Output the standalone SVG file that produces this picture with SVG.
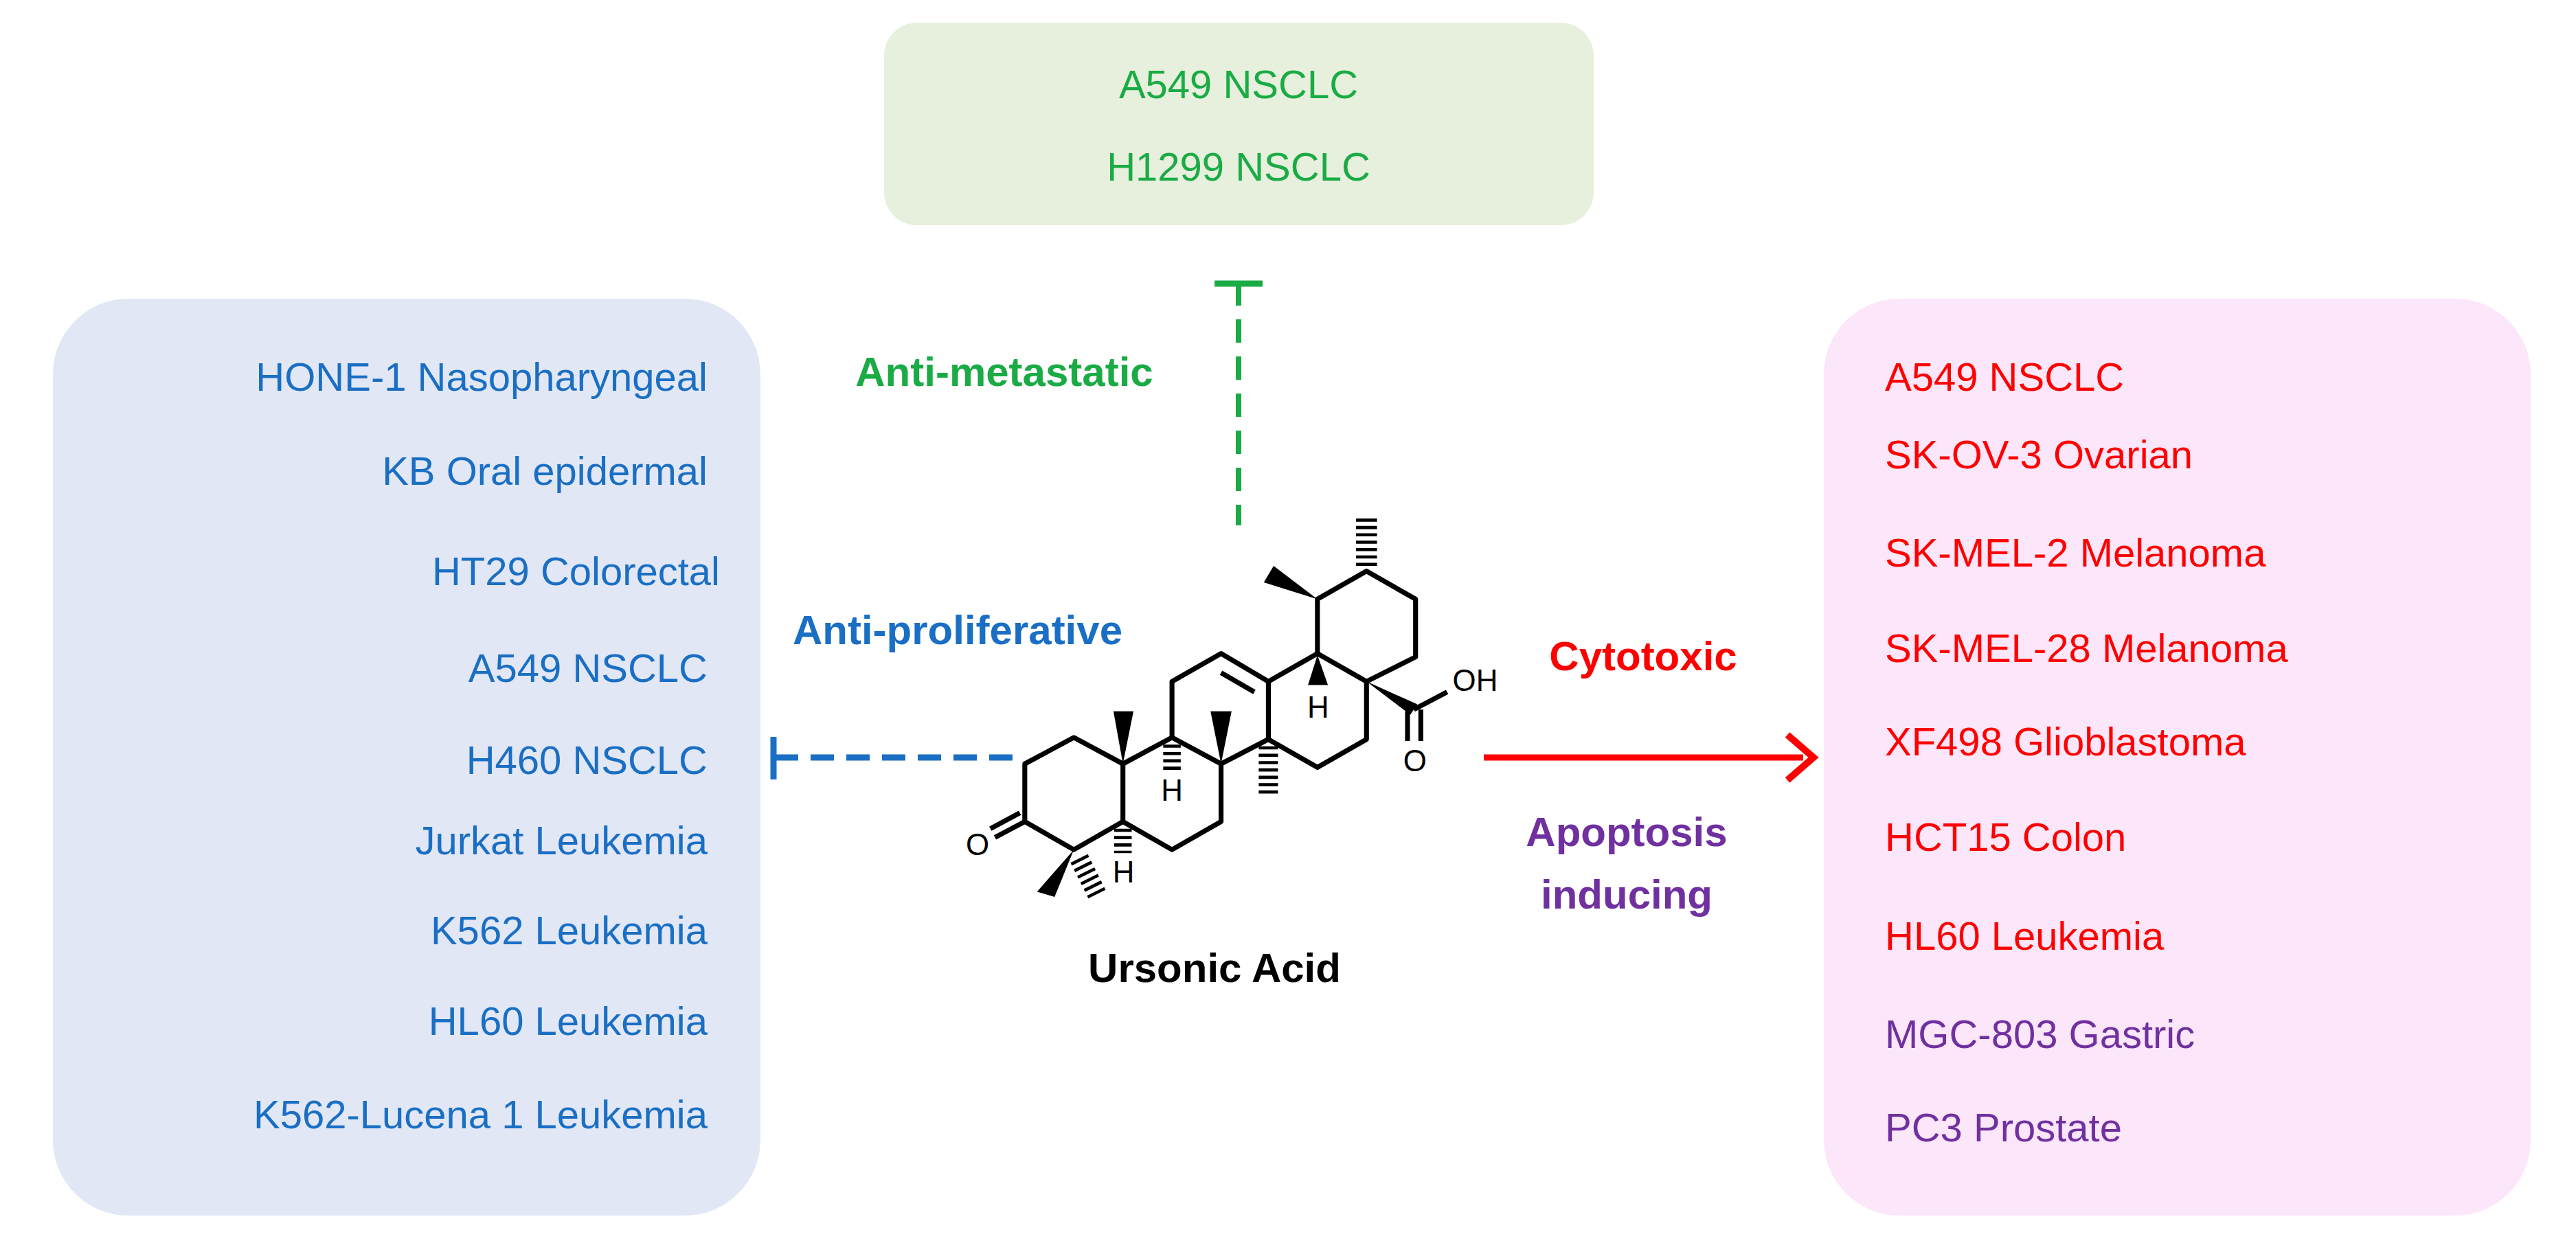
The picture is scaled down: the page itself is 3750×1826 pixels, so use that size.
<svg xmlns="http://www.w3.org/2000/svg" width="3750" height="1826" viewBox="0 0 3750 1826">
<style>
text{font-family:"Liberation Sans",Arial,sans-serif}
.lt{font-size:58px;fill:#1a6fc4;text-anchor:end}
.rt{font-size:58px;fill:#f00}
.pt{font-size:58px;fill:#7030a0}
.gt{font-size:58px;fill:#1aab45;text-anchor:middle}
.lab{font-size:60px;font-weight:bold}
.b{stroke:#000;stroke-width:14;fill:none;stroke-linejoin:round}
.h{stroke:#000;stroke-dasharray:9 12;fill:none}
.at{font-size:86px;fill:#000;text-anchor:middle}
</style>
<rect width="3750" height="1826" fill="#fff"/>
<g id="box-metastatic">
<rect x="1287" y="33" width="1033" height="295" rx="48" fill="#e6f0dc"/>
<text class="gt" x="1803" y="143">A549 NSCLC</text>
<text class="gt" x="1803" y="263">H1299 NSCLC</text>
</g>
<g id="box-proliferative">
<rect x="77" y="435" width="1030" height="1335" rx="110" fill="#e2e7f5"/>
<text class="lt" x="1030" y="569">HONE-1 Nasopharyngeal</text>
<text class="lt" x="1030" y="706">KB Oral epidermal</text>
<text class="lt" x="1048" y="852">HT29 Colorectal</text>
<text class="lt" x="1030" y="993">A549 NSCLC</text>
<text class="lt" x="1030" y="1127">H460 NSCLC</text>
<text class="lt" x="1030" y="1244">Jurkat Leukemia</text>
<text class="lt" x="1030" y="1375">K562 Leukemia</text>
<text class="lt" x="1030" y="1507">HL60 Leukemia</text>
<text class="lt" x="1030" y="1643">K562-Lucena 1 Leukemia</text>
</g>
<g id="box-cytotoxic">
<rect x="2655" y="435" width="1029" height="1335" rx="110" fill="#fce6fa"/>
<text class="rt" x="2744" y="569">A549 NSCLC</text>
<text class="rt" x="2744" y="682">SK-OV-3 Ovarian</text>
<text class="rt" x="2744" y="825">SK-MEL-2 Melanoma</text>
<text class="rt" x="2744" y="964">SK-MEL-28 Melanoma</text>
<text class="rt" x="2744" y="1100">XF498 Glioblastoma</text>
<text class="rt" x="2744" y="1239">HCT15 Colon</text>
<text class="rt" x="2744" y="1383">HL60 Leukemia</text>
<text class="pt" x="2744" y="1526">MGC-803 Gastric</text>
<text class="pt" x="2744" y="1662">PC3 Prostate</text>
</g>
<g id="connectors">
<line x1="1803" y1="411" x2="1803" y2="765" stroke="#1aab45" stroke-width="8" stroke-dasharray="34 20"/>
<line x1="1768" y1="413" x2="1838" y2="413" stroke="#1aab45" stroke-width="9"/>
<line x1="1128" y1="1103" x2="1478" y2="1103" stroke="#1a6fc4" stroke-width="9" stroke-dasharray="34 18"/>
<line x1="1126" y1="1073" x2="1126" y2="1135" stroke="#1a6fc4" stroke-width="9"/>
<line x1="2160" y1="1103" x2="2625" y2="1103" stroke="#f00" stroke-width="9"/>
<polyline points="2602,1070 2640,1103 2602,1136" fill="none" stroke="#f00" stroke-width="10"/>
<text class="lab" x="1462" y="562" text-anchor="middle" fill="#1aab45">Anti-metastatic</text>
<text class="lab" x="1394" y="938" text-anchor="middle" fill="#1a6fc4">Anti-proliferative</text>
<text class="lab" x="2392" y="976" text-anchor="middle" fill="#f00">Cytotoxic</text>
<text class="lab" x="2368" y="1232" text-anchor="middle" fill="#7030a0">Apoptosis</text>
<text class="lab" x="2368" y="1323" text-anchor="middle" fill="#7030a0">inducing</text>
</g>
<g id="ursonic-acid">
<g transform="translate(1400,500) scale(0.5102)">
<polygon class="b" points="180,1200 320,1125 460,1200 460,1365 320,1445 180,1365"/>
<polyline class="b" points="460,1365 600,1445 740,1365 740,1200 600,1125 460,1200"/>
<polyline class="b" points="600,1125 600,965 740,885 875,965 875,1130 740,1200"/>
<line class="b" x1="740" y1="940" x2="835" y2="995"/>
<polyline class="b" points="875,965 1015,885 1155,965 1155,1130 1015,1210 875,1130"/>
<polyline class="b" points="1015,885 1015,730 1155,650 1295,730 1295,895 1155,965"/>
<line class="b" x1="180" y1="1365" x2="95" y2="1410"/>
<line class="b" x1="166" y1="1340" x2="82" y2="1385"/>
<text class="at" x="45" y="1460">O</text>
<polygon points="460,1200 433,1050 490,1050"/>
<polygon points="740,1200 710,1050 770,1050"/>
<line class="h" x1="875" y1="1150" x2="875" y2="1285" stroke-width="55"/>
<line class="h" x1="600" y1="1145" x2="600" y2="1222" stroke-width="50"/>
<text class="at" x="600" y="1305">H</text>
<line class="h" x1="460" y1="1385" x2="460" y2="1455" stroke-width="50"/>
<text class="at" x="462" y="1538">H</text>
<polygon points="320,1445 215,1565 265,1580"/>
<line class="h" x1="335" y1="1470" x2="390" y2="1580" stroke-width="55"/>
<polygon points="1015,890 988,975 1045,975"/>
<text class="at" x="1017" y="1068">H</text>
<polygon points="1015,730 862,682 890,635"/>
<line class="h" x1="1155" y1="635" x2="1155" y2="500" stroke-width="60"/>
<polygon points="1155,965 1300,1030 1280,1060"/>
<line class="b" x1="1290" y1="1045" x2="1385" y2="995"/>
<line class="b" x1="1272" y1="1050" x2="1272" y2="1135"/>
<line class="b" x1="1310" y1="1045" x2="1310" y2="1135"/>
<text class="at" x="1293" y="1222">O</text>
<text class="at" x="1465" y="992">OH</text>
</g>
<text class="lab" x="1768" y="1430" text-anchor="middle" fill="#000">Ursonic Acid</text>
</g>
</svg>
